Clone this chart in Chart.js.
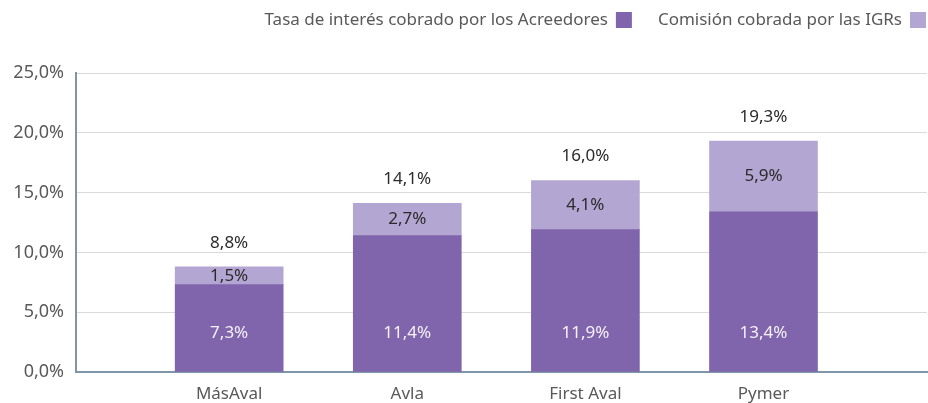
<!DOCTYPE html>
<html>
<head>
<meta charset="utf-8">
<script src="https://cdn.jsdelivr.net/npm/chart.js@4"></script>
<style>
  html, body { margin: 0; padding: 0; background: #fff; }
  #wrap { width: 928px; height: 403px; }
</style>
</head>
<body>
<div id="wrap"><canvas id="chart"></canvas></div>
<script>
// Data
const categories = ['MásAval', 'Avla', 'First Aval', 'Pymer'];
const tasaAcreedores = [7.3, 11.4, 11.9, 13.4];
const comisionIGR = [1.5, 2.7, 4.1, 5.9];
const totals = [8.8, 14.1, 16.0, 19.3];
const yTicks = [0, 5, 10, 15, 20, 25];

const fontFamily = "'Noto Sans', sans-serif";
const darkPurple = '#8064ac';
const lightPurple = '#b4a6d2';

function pct(v) {
    return v.toFixed(1).replace('.', ',') + '%';
}

// Function to draw the value labels on the bars
const barLabels = {
    id: 'barLabels',
    afterDatasetsDraw(chart) {
        const ctx = chart.ctx;
        ctx.save();
        ctx.font = '17px ' + fontFamily;
        ctx.textAlign = 'center';
        ctx.textBaseline = 'middle';

        const bottom = chart.getDatasetMeta(0).data;
        const top = chart.getDatasetMeta(1).data;

        bottom.forEach((bar, i) => {
            ctx.fillStyle = '#f4f2f8';
            ctx.fillText(pct(tasaAcreedores[i]), bar.x, bar.base - 38);
        });
        top.forEach((bar, i) => {
            ctx.fillStyle = '#2b2b2b';
            ctx.fillText(pct(comisionIGR[i]), bar.x, (bar.y + bar.base) / 2);
            ctx.fillText(pct(totals[i]), bar.x, bar.y - 24);
        });
        ctx.restore();
    }
};

// Legend with the colour box after the text, right aligned
const rightLegend = {
    id: 'rightLegend',
    afterDraw(chart) {
        const ctx = chart.ctx;
        ctx.save();
        ctx.font = '17px ' + fontFamily;
        ctx.textBaseline = 'middle';
        ctx.textAlign = 'right';
        let x = chart.width - 2;
        const y = 20;
        const sets = chart.data.datasets.slice().reverse();
        sets.forEach(ds => {
            ctx.fillStyle = ds.backgroundColor;
            ctx.fillRect(x - 16, y - 8, 16, 16);
            x -= 16 + 8;
            ctx.fillStyle = '#595959';
            ctx.fillText(ds.label, x, y);
            x -= ctx.measureText(ds.label).width + 26;
        });
        ctx.restore();
    }
};

const ctx = document.getElementById('chart').getContext('2d');

new Chart(ctx, {
    type: 'bar',
    data: {
        datasets: [
            {
                label: 'Tasa de interés cobrado por los Acreedores',
                data: tasaAcreedores.map((v, i) => ({ x: i, y: v })),
                backgroundColor: darkPurple,
                barThickness: 108
            },
            {
                label: 'Comisión cobrada por las IGRs',
                data: comisionIGR.map((v, i) => ({ x: i, y: v })),
                backgroundColor: lightPurple,
                barThickness: 108
            }
        ]
    },
    options: {
        responsive: true,
        maintainAspectRatio: false,
        animation: false,
        layout: { padding: { top: 73, right: 1, left: 0, bottom: 0 } },
        plugins: {
            legend: { display: false },
            tooltip: { enabled: false }
        },
        scales: {
            x: {
                type: 'linear',
                stacked: true,
                offset: false,
                min: -0.86,
                max: 3.918,
                afterBuildTicks: scale => {
                    scale.ticks = categories.map((c, i) => ({ value: i }));
                },
                afterFit: scale => { scale.height = 31; },
                grid: { display: false },
                border: { color: '#7f95a8', width: 2 },
                ticks: {
                    color: '#595959',
                    font: { family: fontFamily, size: 17 },
                    padding: 4,
                    maxRotation: 0,
                    callback: v => categories[v]
                }
            },
            y: {
                stacked: true,
                min: 0,
                max: 25,
                afterBuildTicks: scale => {
                    scale.ticks = yTicks.map(v => ({ value: v }));
                },
                afterFit: scale => { scale.width = 76; },
                grid: { color: '#dadada', lineWidth: 1, drawTicks: false },
                border: { color: '#7f95a8', width: 2 },
                ticks: {
                    color: '#595959',
                    font: { family: fontFamily, size: 18 },
                    padding: 12,
                    callback: v => pct(v)
                }
            }
        }
    },
    plugins: [barLabels, rightLegend]
});
</script>
</body>
</html>
